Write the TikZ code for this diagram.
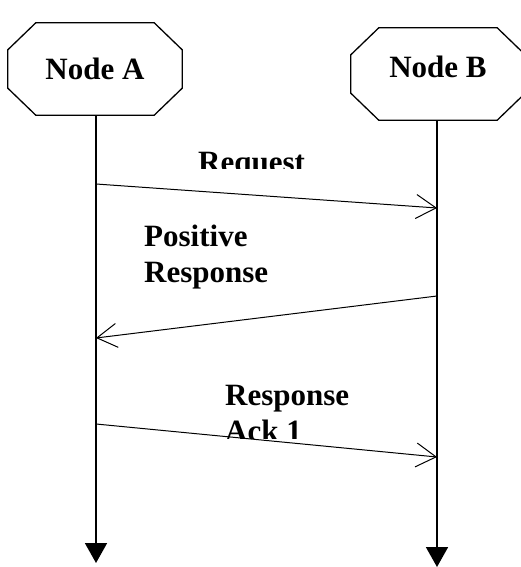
\documentclass[tikz,border=0pt]{standalone}
\usepackage{fontspec}
\setmainfont{Liberation Serif}
\usetikzlibrary{arrows.meta}

\begin{document}
\begin{tikzpicture}[x=1pt,y=-1pt,
		entity/.style={rectangle,minimum width=174pt,minimum height=92pt,inner sep=0pt,
			font=\bfseries\fontsize{31}{36}\selectfont},
		octagon/.style={line width=1.3pt,line join=miter},
		lifeline/.style={line width=1.8pt,-{Triangle[width=22pt,length=20pt]}},
		msg/.style={line width=1pt,-{Straight Barb[length=20pt,width=24pt,line width=1pt]}},
		lbl/.style={inner sep=0pt,align=left,font=\bfseries\fontsize{31}{36}\selectfont}]
		\useasboundingbox (0,0) rectangle (521,567);

		% Entities
		\node[entity] (A) at (95,69) {Node A};
		\node[entity,text depth=14pt] (B) at (438,74) {Node B};
		\foreach \n in {A,B}
			\draw[octagon] ([xshift=28pt]\n.north west) -- ([xshift=-28pt]\n.north east)
				-- ([yshift=-27pt]\n.north east) -- ([yshift=27pt]\n.south east)
				-- ([xshift=-28pt]\n.south east) -- ([xshift=28pt]\n.south west)
				-- ([yshift=27pt]\n.south west) -- ([yshift=-27pt]\n.north west) -- cycle;

		% Lifelines
		\coordinate (endA) at (96,563);
		\coordinate (endB) at (437,567);
		\draw[lifeline] (A.south -| endA) -- (endA);
		\draw[lifeline] (B.south -| endB) -- (endB);

		% Message points
		\coordinate (a1) at (96,184);
		\coordinate (b1) at (437,208);
		\coordinate (b2) at (437,296);
		\coordinate (a2) at (96,338);
		\coordinate (a3) at (96,424);
		\coordinate (b3) at (437,457);

		% Messages
		\draw[msg] (a1) -- (b1);
		\draw[msg] (b2) -- (a2);
		\draw[msg] (a3) -- (b3);

		% Labels (cut off at the bottom as in the original)
		\begin{scope}
			\clip (150,140) rectangle (330,168);
			\node[lbl,anchor=base west] (req) at (198,172) {Request};
		\end{scope}
		\node[lbl,anchor=north west] (pos) at (144,225) {Positive\\Response};
		\begin{scope}
			\clip (200,370) rectangle (380,438);
			\node[lbl,anchor=north west] (ack) at (225,385) {Response\\Ack 1};
		\end{scope}
	\end{tikzpicture}
\end{document}
